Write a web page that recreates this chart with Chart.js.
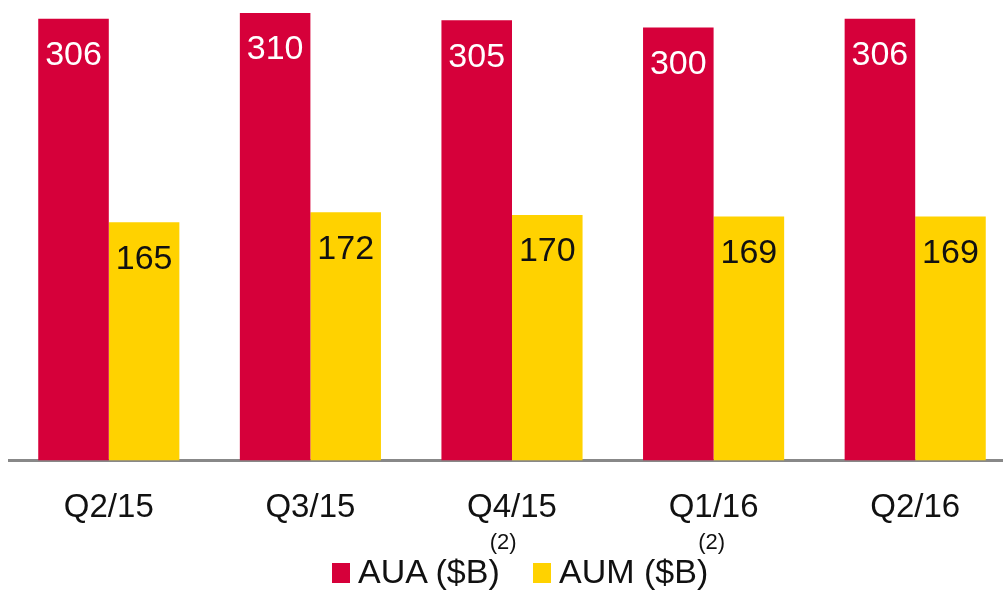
<!DOCTYPE html>
<html>
<head>
<meta charset="utf-8">
<script src="https://cdn.jsdelivr.net/npm/chart.js@4"></script>
<style>
  html, body { margin: 0; padding: 0; background: #fff; overflow: hidden; }
  #wrap { position: absolute; left: 8px; top: 0; width: 1008px; height: 548px; }
  .item { position: absolute; top: 554px; font-family: "Liberation Sans", Arial, sans-serif; font-size: 34px; line-height: 34px; color: #111; white-space: nowrap; }
  .item i { position: absolute; left: 0; top: 9px; width: 18px; height: 20px; }
  .item span { position: absolute; left: 26px; top: 0; }
  .item sup { font-size: 22px; vertical-align: 0; position: relative; top: -34px; margin-left: -10px; }
</style>
</head>
<body>
<div id="wrap"><canvas id="chart"></canvas></div>
<div id="legend"></div>
<script>
// Categories and values
const quarters = ["Q2/15", "Q3/15", "Q4/15", "Q1/16", "Q2/16"];
const auaValues = [306, 310, 305, 300, 306];
const aumValues = [165, 172, 170, 169, 169];
const seriesNames = ["AUA ($B)", "AUM ($B)"];
const seriesNotes = ["(2)", "(2)"];

const RED = "#D6003A";
const YELLOW = "#FFD200";
const FONT = "'Liberation Sans', Arial, sans-serif";

// Value labels inside the bar tops
const barLabels = {
    id: "barLabels",
    afterDatasetsDraw(chart) {
        const ctx = chart.ctx;
        ctx.save();
        ctx.font = "34px " + FONT;
        ctx.textAlign = "center";
        ctx.textBaseline = "middle";
        chart.data.datasets.forEach((ds, i) => {
            chart.getDatasetMeta(i).data.forEach((bar, j) => {
                ctx.fillStyle = i === 0 ? "#ffffff" : "#111111";
                ctx.fillText(ds.data[j], bar.x, bar.y + 37);
            });
        });
        ctx.restore();
    },
};

new Chart(document.getElementById("chart").getContext("2d"), {
    type: "bar",
    data: {
        labels: quarters,
        datasets: [
            { label: seriesNames[0], data: auaValues, backgroundColor: RED },
            { label: seriesNames[1], data: aumValues, backgroundColor: YELLOW },
        ],
    },
    options: {
        responsive: true,
        maintainAspectRatio: false,
        animation: false,
        layout: { padding: 0 },
        categoryPercentage: 0.7,
        barPercentage: 1.0,
        scales: {
            y: { display: false, min: 0, max: 319 },
            x: {
                grid: { display: false },
                border: { display: true, color: "#888888", width: 3 },
                ticks: { color: "#111", padding: 20, font: { family: "Liberation Sans", size: 33 } },
            },
        },
        plugins: { legend: { display: false }, tooltip: { enabled: false } },
    },
    plugins: [barLabels],
});

// Legend with superscript notes
const colors = [RED, YELLOW];
const legendLeft = [332, 533];
document.getElementById("legend").innerHTML = seriesNames
    .map((n, i) => `<div class="item" style="left:${legendLeft[i]}px"><i style="background:${colors[i]}"></i><span>${n}<sup>${seriesNotes[i]}</sup></span></div>`)
    .join("");
</script>
</body>
</html>
